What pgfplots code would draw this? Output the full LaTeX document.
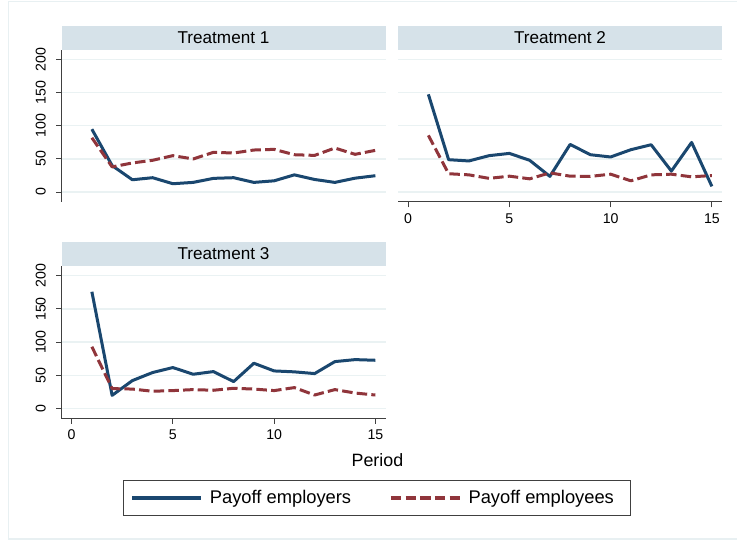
\documentclass[border=0pt]{standalone}
\usepackage{fontspec}
\setmainfont{Liberation Sans}
\usepackage{pgfplots}
\pgfplotsset{compat=1.18}

\definecolor{stnavy}{RGB}{26,71,111}
\definecolor{stmaroon}{RGB}{144,53,59}
\definecolor{stripcol}{RGB}{214,226,233}
\definecolor{gridcol}{RGB}{234,242,243}
\definecolor{framecol}{RGB}{232,240,242}
\definecolor{axiscol}{RGB}{64,64,64}

\pgfplotsset{
  panel/.style={
    scale only axis, width=324bp, height=152bp, anchor=south west,
    xmin=-0.5, xmax=15.5, ymin=-15, ymax=214.6,
    xtick={0,5,10,15}, ytick={0,50,100,150,200},
    xtick pos=left, ytick pos=left, tick align=outside,
    major tick length=5.5bp,
    every tick/.style={axiscol, line width=1bp},
    axis line style={draw=none},
    ymajorgrids, major grid style={gridcol, line width=1.2bp},
    clip=false,
    tick label style={font=\fontsize{14.2}{16}\selectfont, inner sep=0pt, text=black},
    yticklabel style={rotate=90, anchor=south},
    xticklabel style={anchor=north},
    yticklabel shift=10bp, xticklabel shift=6bp,
    /pgf/number format/assume math mode=true,
    every axis title shift=0pt,
    title style={at={(0.5,1)}, anchor=south, fill=stripcol, minimum width=324bp,
      minimum height=24bp, inner sep=0pt, font=\fontsize{17.2}{20}\selectfont},
  },
  longleg/.style={legend image code/.code={\draw[##1, line width=3.4bp] (0bp,0bp) -- (69bp,0bp);}},
  emp/.style={stnavy, line width=3bp, line join=round, longleg},
  ee/.style={stmaroon, line width=3bp, line join=round, dash pattern=on 10.5bp off 4.2bp, longleg},
}

\begin{document}
\begin{tikzpicture}
\path[use as bounding box] (0,0) rectangle (737bp,541bp);
\fill[white] (0,0) rectangle (737bp,541bp);
\draw[framecol, line width=1.2bp] (8.5bp,2bp) rectangle (745bp,539.3bp);

% Treatment 1
\begin{axis}[panel, name=p1, at={(61.5bp,339bp)}, title={Treatment 1}, xtick=\empty]
\addplot[emp] coordinates {(1,95)(2,40)(3,18.6)(4,21.7)(5,12.6)(6,14.6)(7,20.7)(8,21.7)(9,14.6)(10,17)(11,26)(12,19)(13,14.6)(14,21)(15,24.7)};
\addplot[ee] coordinates {(1,82)(2,38)(3,44)(4,48)(5,55)(6,50)(7,60)(8,59)(9,63.5)(10,64.5)(11,56.4)(12,55.4)(13,66.5)(14,57)(15,63)};
\end{axis}

% Treatment 2
\begin{axis}[panel, name=p2, at={(398bp,339bp)}, title={Treatment 2},
  ytick style={draw=none}, yticklabels={}]
\addplot[emp] coordinates {(1,147.6)(2,48.9)(3,47)(4,55)(5,58.4)(6,48)(7,23.7)(8,72)(9,56.4)(10,53)(11,64)(12,71.5)(13,31.7)(14,75)(15,8.6)};
\addplot[ee] coordinates {(1,85.6)(2,27.7)(3,26)(4,20.7)(5,24)(6,20)(7,29)(8,24)(9,23.7)(10,27)(11,17)(12,26)(13,27)(14,23)(15,25)};
\end{axis}

% Treatment 3
\begin{axis}[panel, name=p3, at={(61.5bp,122.8bp)}, title={Treatment 3},
  xlabel={Period},
  xlabel style={at={(0.975,-0.275)}, anchor=center, inner sep=0pt, font=\fontsize{17.9}{21}\selectfont},
  legend columns=2, legend cell align=left,
  legend style={at={(0.1898,-0.404)}, anchor=north west, draw=axiscol, line width=1bp,
    fill=white, inner xsep=7bp, inner ysep=8.5bp, font=\fontsize{18.4}{22}\selectfont,
    column sep=5bp, /tikz/every even column/.append style={column sep=36bp}}]
\addplot[emp] coordinates {(1,176)(2,19.5)(3,41.8)(4,54)(5,61.5)(6,51.4)(7,55.4)(8,40.3)(9,68)(10,56.4)(11,55)(12,52.4)(13,70.5)(14,73.5)(15,72.5)};
\addlegendentry{Payoff employers}
\addplot[ee] coordinates {(1,93)(2,29.7)(3,29)(4,25.7)(5,26.7)(6,28.2)(7,27.2)(8,30.2)(9,29)(10,26.7)(11,31.2)(12,20)(13,28.2)(14,23)(15,20)};
\addlegendentry{Payoff employees\rule{8bp}{0pt}}
\end{axis}

% axis lines
\draw[axiscol, line width=1bp] (p1.south west) -- (p1.north west);
\draw[axiscol, line width=1bp] (p2.south west) -- (p2.south east);
\draw[axiscol, line width=1bp] (p3.north west) -- (p3.south west) -- (p3.south east);
\end{tikzpicture}
\end{document}
